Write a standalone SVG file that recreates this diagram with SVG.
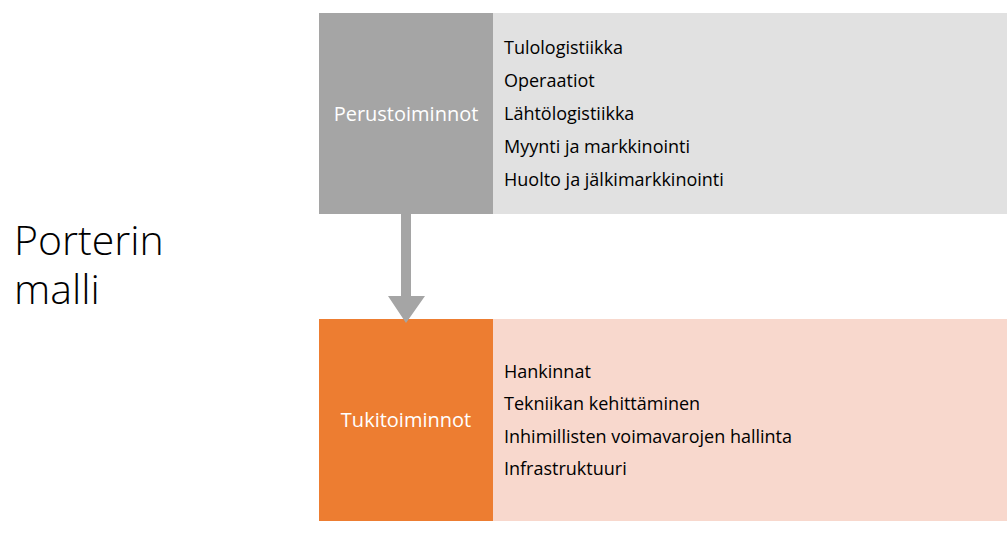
<svg xmlns="http://www.w3.org/2000/svg" width="1007" height="533" viewBox="0 0 1007 533">
<style>
.item{font-family:"Open Sans","Liberation Sans",sans-serif;font-size:18px;fill:#000}
.head{font-family:"Open Sans","Liberation Sans",sans-serif;font-size:20px;fill:#fff;text-anchor:middle}
.title{font-family:"Open Sans","Liberation Sans",sans-serif;font-weight:300;font-size:41px;fill:#000}
</style>
<rect width="1007" height="533" fill="#fff"/>
<g id="title"><text class="title"><tspan x="14" y="255">Porterin</tspan><tspan x="14" y="304">malli</tspan></text></g>
<g id="perustoiminnot">
<rect x="319" y="13" width="174" height="201" fill="#A5A5A5"/>
<text class="head" x="406" y="121">Perustoiminnot</text>
</g>
<g id="perus-list">
<rect x="493" y="13" width="514" height="201" fill="#E1E1E1"/>
<text class="item" x="504" y="54">Tulologistiikka</text>
<text class="item" x="504" y="87">Operaatiot</text>
<text class="item" x="504" y="120">Lähtölogistiikka</text>
<text class="item" x="504" y="153">Myynti ja markkinointi</text>
<text class="item" x="504" y="186">Huolto ja jälkimarkkinointi</text>
</g>
<g id="tukitoiminnot">
<rect x="319" y="319" width="174" height="202" fill="#ED7D31"/>
<text class="head" x="406" y="427">Tukitoiminnot</text>
</g>
<g id="tuki-list">
<rect x="493" y="319" width="514" height="202" fill="#F8D8CD"/>
<text class="item" x="504" y="378">Hankinnat</text>
<text class="item" x="504" y="410">Tekniikan kehittäminen</text>
<text class="item" x="504" y="443">Inhimillisten voimavarojen hallinta</text>
<text class="item" x="504" y="475">Infrastruktuuri</text>
</g>
<g id="connectors">
<path d="M401 214 V296 H388 L406 323 L425 296 H411 V214 Z" fill="#A5A5A5"/>
</g>
</svg>
